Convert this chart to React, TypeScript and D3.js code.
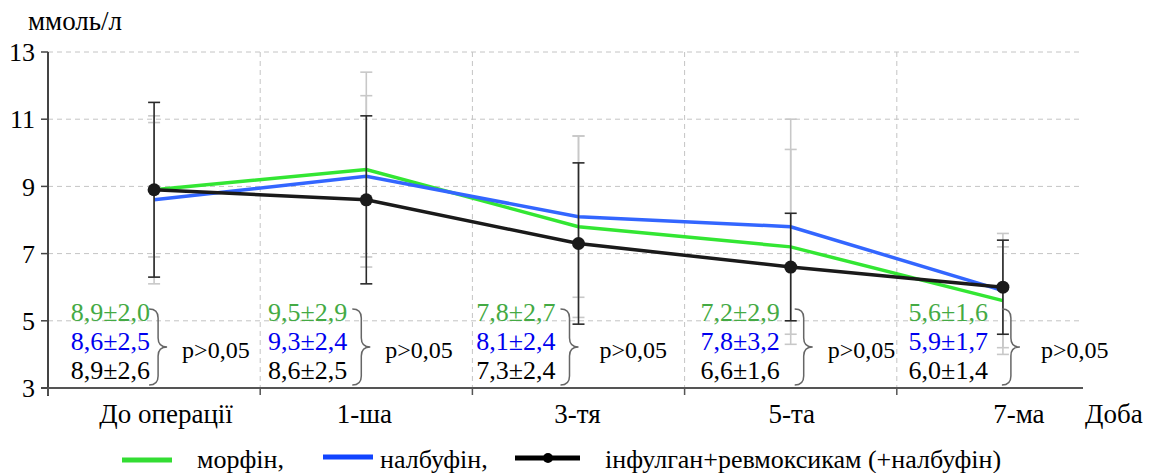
import React from "react";
import * as d3 from "d3";

const days = ["До операції", "1-ша", "3-тя", "5-та", "7-ма"];
const yTickValues = [3, 5, 7, 9, 11, 13];

// mean ± sd, ммоль/л
const morphineMean = [8.9, 9.5, 7.8, 7.2, 5.6];
const morphineSd = [2.0, 2.9, 2.7, 2.9, 1.6];
const nalbuphineMean = [8.6, 9.3, 8.1, 7.8, 5.9];
const nalbuphineSd = [2.5, 2.4, 2.4, 3.2, 1.7];
const infulganMean = [8.9, 8.6, 7.3, 6.6, 6.0];
const infulganSd = [2.6, 2.5, 2.4, 1.6, 1.4];
const pLabels = ["p>0,05", "p>0,05", "p>0,05", "p>0,05", "p>0,05"];

const W = 1151;
const H = 473;
const FONT = '"Liberation Serif"';

const fmt = (v: number) => v.toFixed(1).replace(".", ",");

// annotation layout (offsets from the point centre)
const textDx = [-4, -19, -23, -11, -15];
const braceDx = [-5, -14, -18, 4, -1];
const pDx = [28, 19, 21, 37, 38];
const labelDx = [12, -2, -1, 1, 16];
const rowBase = [321, 350, 379];

const bracePath = (x: number, y0: number, y1: number, w: number) => {
  const m = (y0 + y1) / 2;
  const h = w / 2;
  return `M${x},${y0} Q${x + h},${y0} ${x + h},${y0 + h} L${x + h},${m - h} Q${x + h},${m} ${x + w},${m} Q${x + h},${m} ${x + h},${m + h} L${x + h},${y1 - h} Q${x + h},${y1} ${x},${y1}`;
};

export default function App() {
  const x = d3.scaleBand<string>().domain(days).range([48, 1109]);
  const y = d3.scaleLinear().domain([3, 13]).range([388, 52]);
  const cx = (d: string) => (x(d) as number) + x.bandwidth() / 2;
  const plotLeft = 48;
  const plotRight = 1083;

  const line = d3
    .line<number>()
    .x((_, i) => cx(days[i]))
    .y((v) => y(v));

  const series = [
    { mean: morphineMean, sd: morphineSd, color: "#33e633", text: "#44aa44" },
    { mean: nalbuphineMean, sd: nalbuphineSd, color: "#3366ff", text: "#0000ee" },
    { mean: infulganMean, sd: infulganSd, color: "#1a1a1a", text: "#000000" },
  ];

  const errBar = (i: number, m: number, s: number, color: string, key: string) => {
    const px = cx(days[i]);
    return (
      <g key={key} stroke={color} strokeWidth={1.6}>
        <line x1={px} x2={px} y1={y(m + s)} y2={y(m - s)} />
        <line x1={px - 6} x2={px + 6} y1={y(m + s)} y2={y(m + s)} />
        <line x1={px - 6} x2={px + 6} y1={y(m - s)} y2={y(m - s)} />
      </g>
    );
  };

  const tx = { fontFamily: FONT };

  return (
    <svg width={W} height={H} style={{ position: "absolute", left: 0, top: 0, background: "#fff", fontFamily: FONT }}>
      {/* grid */}
      {yTickValues.slice(1).map((t) => (
        <line key={"gy" + t} x1={plotLeft} x2={plotRight} y1={y(t)} y2={y(t)} stroke="#c4c4c4" strokeDasharray="5,4" />
      ))}
      {days.slice(1).map((d) => (
        <line key={"gx" + d} x1={x(d)} x2={x(d)} y1={y(13)} y2={y(3)} stroke="#c4c4c4" strokeDasharray="5,4" />
      ))}

      {/* axes */}
      <line x1={plotLeft} x2={plotLeft} y1={y(13)} y2={y(3) + 8} stroke="#444" strokeWidth={2} />
      <line x1={plotLeft - 7} x2={plotRight} y1={y(3)} y2={y(3)} stroke="#555" strokeWidth={2} />
      {yTickValues.map((t) => (
        <g key={"yt" + t}>
          <line x1={plotLeft - 7} x2={plotLeft} y1={y(t)} y2={y(t)} stroke="#444" strokeWidth={1.5} />
          <text x={plotLeft - 13} y={y(t)} dy="0.35em" textAnchor="end" fontSize={26} style={tx}>
            {t}
          </text>
        </g>
      ))}
      {days.map((d, i) => (
        <g key={"xt" + d}>
          <line x1={x(d)} x2={x(d)} y1={y(3)} y2={y(3) + 7} stroke="#555" strokeWidth={1.5} />
          <text x={cx(d) + labelDx[i]} y={y(3) + 35} textAnchor="middle" fontSize={27} style={tx}>
            {d}
          </text>
        </g>
      ))}
      <text x={1085} y={y(3) + 35} fontSize={27} style={tx}>Доба</text>
      <text x={28} y={30} fontSize={27} style={tx}>ммоль/л</text>

      {/* light error bars for morphine & nalbuphine */}
      {series.slice(0, 2).map((s, si) =>
        s.mean.map((m, i) => errBar(i, m, s.sd[i], "#c8c8c8", `e${si}-${i}`))
      )}

      {/* lines */}
      {series.map((s, si) => (
        <path key={"l" + si} d={line(s.mean) || ""} fill="none" stroke={s.color} strokeWidth={3.5} />
      ))}

      {/* dark error bars + markers */}
      {infulganMean.map((m, i) => errBar(i, m, infulganSd[i], "#2a2a2a", "eb" + i))}
      {infulganMean.map((m, i) => (
        <circle key={"c" + i} cx={cx(days[i])} cy={y(m)} r={6.5} fill="#1a1a1a" />
      ))}

      {/* annotations */}
      {days.map((d, i) => {
        const px = cx(d);
        return (
          <g key={"a" + i}>
            {series.map((s, si) => (
              <text key={si} x={px + textDx[i]} y={rowBase[si]} textAnchor="end" fontSize={26} fill={s.text} style={tx}>
                {fmt(s.mean[i])}±{fmt(s.sd[i])}
              </text>
            ))}
            <path d={bracePath(px + braceDx[i], 309, 385, 18)} fill="none" stroke="#666" strokeWidth={1.5} />
            <text x={px + pDx[i]} y={358} fontSize={24} style={tx}>
              {pLabels[i]}
            </text>
          </g>
        );
      })}

      {/* legend */}
      <g>
        <line x1={122} x2={172} y1={460} y2={460} stroke="#33dd33" strokeWidth={5} />
        <text x={197} y={468} fontSize={26} style={tx}>морфін,</text>
        <line x1={323} x2={373} y1={457} y2={457} stroke="#1144ff" strokeWidth={5} />
        <text x={380} y={468} fontSize={26} style={tx}>налбуфін,</text>
        <line x1={515} x2={580} y1={458} y2={458} stroke="#000" strokeWidth={5} />
        <circle cx={548} cy={458} r={5} fill="#000" />
        <text x={605} y={468} fontSize={26} style={tx}>інфулган+ревмоксикам (+налбуфін)</text>
      </g>
    </svg>
  );
}
